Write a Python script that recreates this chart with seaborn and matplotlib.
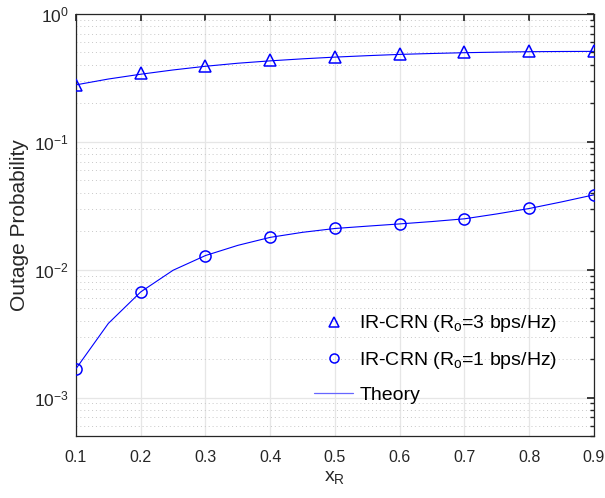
import numpy as np
import pandas as pd
import matplotlib
matplotlib.use("Agg")
from matplotlib import pyplot as plt
from matplotlib.lines import Line2D
from matplotlib.ticker import LogLocator, NullFormatter
import seaborn as sns

# simulated points
x_sim = [0.1, 0.2, 0.3, 0.4, 0.5, 0.6, 0.7, 0.8, 0.9]
sim_r3 = [0.28, 0.345, 0.395, 0.435, 0.465, 0.488, 0.503, 0.513, 0.513]
sim_r1 = [0.00168, 0.0067, 0.0129, 0.0179, 0.021, 0.0228, 0.025, 0.0301, 0.0385]

# theory curves
x_th = [0.1, 0.15, 0.2, 0.25, 0.3, 0.35, 0.4, 0.45, 0.5,
        0.55, 0.6, 0.65, 0.7, 0.75, 0.8, 0.85, 0.9]
th_r3 = [0.279, 0.31, 0.338, 0.365, 0.39, 0.412, 0.43, 0.446, 0.46,
         0.472, 0.483, 0.491, 0.498, 0.503, 0.507, 0.509, 0.51]
th_r1 = [0.00168, 0.0038, 0.0067, 0.0099, 0.0129, 0.0155, 0.0179, 0.0196, 0.021,
         0.0219, 0.0228, 0.0238, 0.025, 0.0273, 0.0301, 0.0339, 0.0385]

sns.set_theme(style="white")
plt.rcParams["font.family"] = ["Liberation Sans", "DejaVu Sans"]
plt.rcParams["mathtext.fontset"] = "custom"
plt.rcParams["mathtext.rm"] = "Liberation Sans"
plt.rcParams["mathtext.it"] = "Liberation Sans:italic"

blue = (0, 0, 1)
axis_col = "#262626"

fig = plt.figure(figsize=(6.05, 4.98), dpi=100)
ax = fig.add_axes([0.1256, 0.1245, 0.8562, 0.8474])

sim = pd.DataFrame({"x": x_sim, "r3": sim_r3, "r1": sim_r1})
th = pd.DataFrame({"x": x_th, "r3": th_r3, "r1": th_r1})

sns.lineplot(data=th, x="x", y="r3", ax=ax, color=blue, lw=0.8, zorder=3)
sns.lineplot(data=th, x="x", y="r1", ax=ax, color=blue, lw=0.8, zorder=3)
ax.plot(sim["x"], sim["r3"], ls="none", marker="^", ms=9, mfc="none",
        mec=blue, mew=1.1, zorder=4)
ax.plot(sim["x"], sim["r1"], ls="none", marker="o", ms=8, mfc="none",
        mec=blue, mew=1.1, zorder=4)

ax.set_yscale("log")
ax.set_xlim(0.1, 0.9)
ax.set_ylim(5e-4, 1)
ax.set_xticks(x_sim)
ax.set_xticklabels([f"{v:.1f}" for v in x_sim])
ax.yaxis.set_major_locator(LogLocator(base=10, numticks=10))
ax.yaxis.set_minor_locator(LogLocator(base=10, subs=np.arange(2, 10), numticks=20))
ax.yaxis.set_minor_formatter(NullFormatter())

ax.grid(which="major", color="#e6e6e6", lw=0.9, ls="-", zorder=0)
ax.grid(which="minor", axis="y", color="#c8c8c8", lw=0.7, ls=(0, (1, 3)), zorder=0)
ax.set_axisbelow(True)

for sp in ax.spines.values():
    sp.set_color(axis_col)
    sp.set_linewidth(0.9)
ax.tick_params(which="both", direction="in", top=True, right=True,
               colors=axis_col, labelcolor=axis_col)
ax.tick_params(axis="x", labelsize=11.5, pad=10)
ax.tick_params(axis="y", labelsize=12.5, pad=5)
ax.tick_params(which="major", length=5)
ax.tick_params(which="minor", length=3)

ax.set_xlabel("x$_\\mathrm{R}$", fontsize=14, color=axis_col, labelpad=3)
ax.set_ylabel("Outage Probability", fontsize=15, color=axis_col, labelpad=4)

handles = [
    Line2D([], [], ls="none", marker="^", ms=7, mfc="none", mec=blue, mew=1.1),
    Line2D([], [], ls="none", marker="o", ms=6.5, mfc="none", mec=blue, mew=1.1),
    Line2D([], [], color=(0.4, 0.4, 1.0), lw=0.9),
]
labels = [
    "IR-CRN (R$_\\mathrm{o}$=3 bps/Hz)",
    "IR-CRN (R$_\\mathrm{o}$=1 bps/Hz)",
    "Theory",
]
ax.legend(handles, labels, loc="lower right", bbox_to_anchor=(0.963, 0.034),
          frameon=False, fontsize=14, handlelength=2.0, handletextpad=0.3,
          labelspacing=0.8, borderpad=0.4, labelcolor="black")

fig.savefig("out.png", dpi=100)
